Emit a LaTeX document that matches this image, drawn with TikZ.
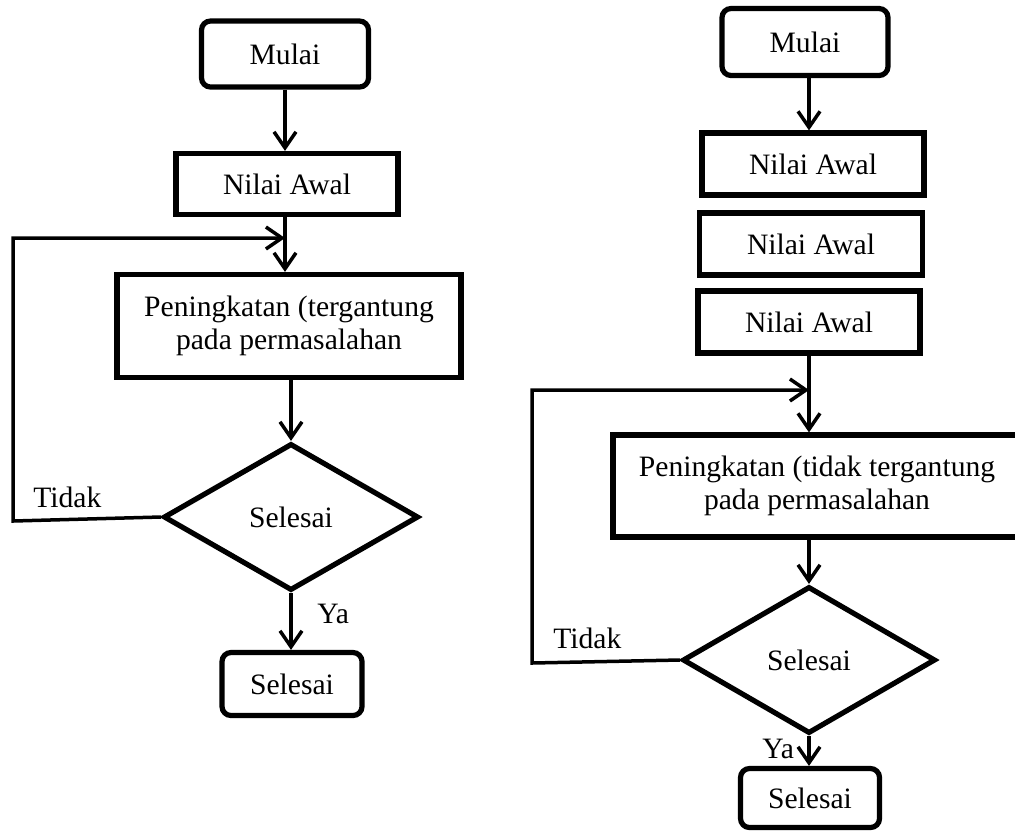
\documentclass[tikz,border=0pt]{standalone}
\usepackage{fontspec}
\setmainfont{Liberation Serif}
\usetikzlibrary{shapes.geometric,arrows.meta}
\begin{document}
\begin{tikzpicture}[x=0.5pt,y=-0.5pt,
  every node/.style={font=\fontsize{14.8}{16.5}\selectfont},
  termbox/.style={draw,line width=2.6pt,rounded corners=4.5pt,inner sep=0pt},
  procbox/.style={draw,line width=2.6pt,inner sep=0pt,align=center},
  decbox/.style={draw,line width=2.6pt,diamond,inner sep=0pt},
  lbl/.style={inner sep=0pt,anchor=base west},
  arr/.style={line width=1.75pt,-{Straight Barb[length=8pt,width=11pt]}},
  ln/.style={line width=1.75pt}]
\useasboundingbox (0,0) rectangle (1015,831);
% ---------- left ----------
\node[termbox,minimum width=83.5pt,minimum height=33pt] (mulaiL) at (285,54) {Mulai};
\node[procbox,minimum width=111pt,minimum height=30.5pt] (nilaiL) at (287,184) {Nilai Awal};
\node[procbox,minimum width=172pt,minimum height=51.5pt] (pengL) at (289,326) {Peningkatan (tergantung\\pada permasalahan};
\node[decbox,minimum width=127.5pt,minimum height=73.5pt] (decL) at (291,517) {Selesai};
\node[termbox,minimum width=70pt,minimum height=31.5pt] (selL) at (292,684) {Selesai};
\coordinate (loopL) at (285,238);
\coordinate (cornL) at (13,521);
\draw[arr] (mulaiL.south -| loopL) -- (loopL |- nilaiL.north);
\draw[arr] (loopL |- nilaiL.south) -- (loopL |- pengL.north);
\draw[arr] (decL.north |- pengL.south) -- (decL.north);
\draw[arr] (decL.south) -- (decL.south |- selL.north);
\draw[arr] (decL.west) -- (cornL) |- (loopL);
\node[lbl] (tidakL) at (33,507) {Tidak};
\node[lbl] (yaL) at (317,623) {Ya};
% ---------- right ----------
\node[termbox,minimum width=83pt,minimum height=33.5pt] (mulaiR) at (805,42) {Mulai};
\node[procbox,minimum width=111pt,minimum height=31pt] (n1R) at (813,164) {Nilai Awal};
\node[procbox,minimum width=111.5pt,minimum height=31pt] (n2R) at (811,244) {Nilai Awal};
\node[procbox,minimum width=111pt,minimum height=31pt] (n3R) at (809,322) {Nilai Awal};
\node[procbox,minimum width=204pt,minimum height=51pt] (pengR) at (817,486) {Peningkatan (tidak tergantung\\pada permasalahan};
\node[decbox,minimum width=126.5pt,minimum height=73.5pt] (decR) at (809,660) {Selesai};
\node[termbox,minimum width=69.5pt,minimum height=29.5pt] (selR) at (810,798) {Selesai};
\coordinate (loopR) at (809,390);
\coordinate (cornR) at (532,663);
\draw[arr] (mulaiR.south -| loopR) -- (loopR |- n1R.north);
\draw[arr] (loopR |- n3R.south) -- (loopR |- pengR.north);
\draw[arr] (decR.north |- pengR.south) -- (decR.north);
\draw[arr] (decR.south) -- (decR.south |- selR.north);
\draw[arr] (decR.west) -- (cornR) |- (loopR);
\node[lbl] (tidakR) at (553,648) {Tidak};
\node[lbl] (yaR) at (762,758) {Ya};
\end{tikzpicture}
\end{document}
